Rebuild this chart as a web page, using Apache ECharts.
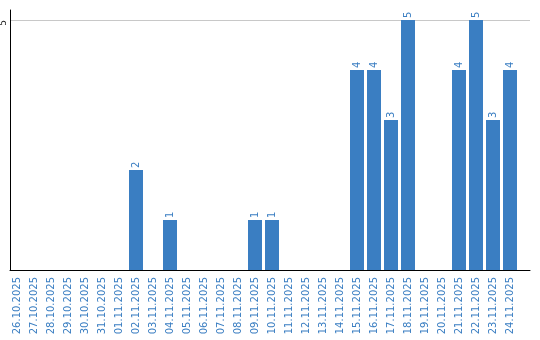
<!DOCTYPE html>
<html><head><meta charset="utf-8">
<script src="https://cdn.jsdelivr.net/npm/echarts@6/dist/echarts.min.js"></script>
<style>html,body{margin:0;padding:0;background:#fff}#c{width:540px;height:340px}</style>
</head><body><div id="c"></div>
<script>
var categories = ["26.10.2025","27.10.2025","28.10.2025","29.10.2025","30.10.2025","31.10.2025","01.11.2025","02.11.2025","03.11.2025","04.11.2025","05.11.2025","06.11.2025","07.11.2025","08.11.2025","09.11.2025","10.11.2025","11.11.2025","12.11.2025","13.11.2025","14.11.2025","15.11.2025","16.11.2025","17.11.2025","18.11.2025","19.11.2025","20.11.2025","21.11.2025","22.11.2025","23.11.2025","24.11.2025"];
var values = [0,0,0,0,0,0,0,2,0,1,0,0,0,0,1,1,0,0,0,0,4,4,3,5,0,0,4,5,3,4];
var yTicks = [5];

var blue = '#3a7ec2';
var data = [];
for (var i = 0; i < values.length; i++) { if (values[i] > 0) data.push([i, values[i]]); }
var idx = categories.map(function(_, i){ return i; });

var chart = echarts.init(document.getElementById('c'), null, {renderer:'canvas'});
chart.setOption({
  animation: false,
  grid: {left: 10, right: 10, top: 10, bottom: 70, containLabel: false, outerBoundsMode: 'none'},
  xAxis: {
    type: 'value', min: -7/17, max: 513/17,
    axisLine: {show: true, onZero: false, lineStyle: {color: '#000', width: 1}},
    axisTick: {show: false},
    splitLine: {show: false},
    axisLabel: {
      customValues: idx,
      rotate: 90, margin: 7, color: blue,
      fontFamily: 'DejaVu Sans', fontSize: 10,
      formatter: function(v){ return categories[Math.round(v)] || ''; }
    }
  },
  yAxis: {
    type: 'value', min: 0, max: 5.2, interval: 5,
    axisLine: {show: true, onZero: false, lineStyle: {color: '#000', width: 1}},
    axisTick: {show: false},
    splitLine: {show: true, showMinLine: false, showMaxLine: false, lineStyle: {color: '#c8c8c8', width: 1}},
    axisLabel: {
      customValues: yTicks,
      rotate: 90, margin: 2, color: '#222',
      align: 'center', verticalAlign: 'bottom',
      padding: [0, 6, 0, 0],
      fontFamily: 'DejaVu Sans', fontSize: 9
    }
  },
  series: [{
    type: 'bar',
    data: data,
    barWidth: 14,
    itemStyle: {color: blue},
    label: {
      show: true, position: 'top', rotate: 90, distance: 2,
      align: 'left', verticalAlign: 'middle',
      color: blue, fontFamily: 'DejaVu Sans', fontSize: 10,
      formatter: function(p){ return p.value[1]; }
    }
  }]
});
</script></body></html>
